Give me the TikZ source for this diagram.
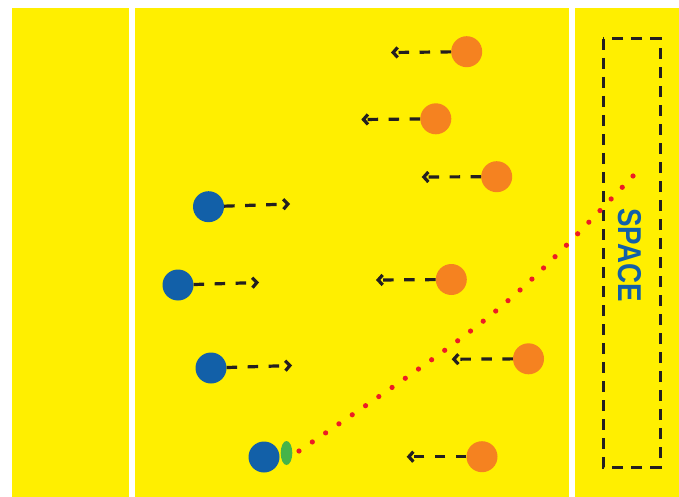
\documentclass[tikz,border=0pt]{standalone}
\usepackage{fontspec}
\setmainfont{Liberation Sans}
\usetikzlibrary{arrows.meta,shapes.geometric}
\definecolor{fieldyellow}{RGB}{255,239,0}
\definecolor{pblue}{RGB}{18,96,168}
\definecolor{porange}{RGB}{245,130,32}
\definecolor{pgreen}{RGB}{70,180,73}
\definecolor{pred}{RGB}{237,28,36}
\definecolor{pblack}{RGB}{35,31,32}
\begin{document}
\begin{tikzpicture}[x=1pt,y=-1pt,
  player/.style={circle,inner sep=0pt,minimum size=31pt},
  attacker/.style={player,fill=pblue},
  defender/.style={player,fill=porange},
  runarrow/.style={draw=pblack,line width=3.2pt,dash pattern=on 10.5pt off 10.5pt,
    -{Straight Barb[length=4.5pt,width=10pt]}},
  passline/.style={draw=pred,line width=5.2pt,line cap=round,dash pattern=on 0pt off 16.1pt},
  zonebox/.style={draw=pblack,line width=3pt,dash pattern=on 11pt off 8pt}]
\useasboundingbox (0,0) rectangle (679,497);
\fill[white] (0,0) rectangle (679,497);
\fill[fieldyellow] (12,8) rectangle (129,497);
\fill[fieldyellow] (135,8) rectangle (569,497);
\fill[fieldyellow] (575,8) rectangle (679,497);
\draw[zonebox] (603,39) rectangle (660,467);
\node[text=pblue,font=\bfseries\fontsize{33}{33}\selectfont,rotate=-90,inner sep=0pt] (space) at (630,255) {\scalebox{0.84}[1]{SPACE}};
% defenders
\node[defender] (o1) at (466.7,51.7) {};
\node[defender] (o2) at (435.8,118.8) {};
\node[defender] (o3) at (496.7,176.7) {};
\node[defender] (o4) at (451.3,279.5) {};
\node[defender] (o5) at (528.5,358.8) {};
\node[defender] (o6) at (482,456.7) {};
\coordinate (t1) at (391,52.5);
\coordinate (t2) at (361.3,119.5);
\coordinate (t3) at (421.7,177);
\coordinate (t4) at (376,280);
\coordinate (t5) at (451.7,359.2);
\coordinate (t6) at (406.7,456.7);
% attackers
\node[attacker] (b1) at (208.5,206.7) {};
\node[attacker] (b2) at (178,285) {};
\node[attacker] (b3) at (211,368) {};
\node[attacker] (b4) at (264,457) {};
\coordinate (t7) at (290,204);
\coordinate (t8) at (259,282.5);
\coordinate (t9) at (292,365.5);
% runs
\foreach \p/\t in {o1/t1,o2/t2,o3/t3,o4/t4,o5/t5,o6/t6,b1/t7,b2/t8,b3/t9}
  \draw[runarrow] (\p) -- (\t);
% ball
\node[ellipse,fill=pgreen,inner sep=0pt,minimum width=11.6pt,minimum height=24pt] (ball) at (286.5,453) {};
% pass
\coordinate (d0) at (299,451);
\coordinate (dc) at (503.6,311.9);
\coordinate (d1) at (633,176);
\draw[passline] (d0) .. controls (dc) .. (d1);
\fill[pred] (d1) circle (2.6pt);
\end{tikzpicture}
\end{document}
